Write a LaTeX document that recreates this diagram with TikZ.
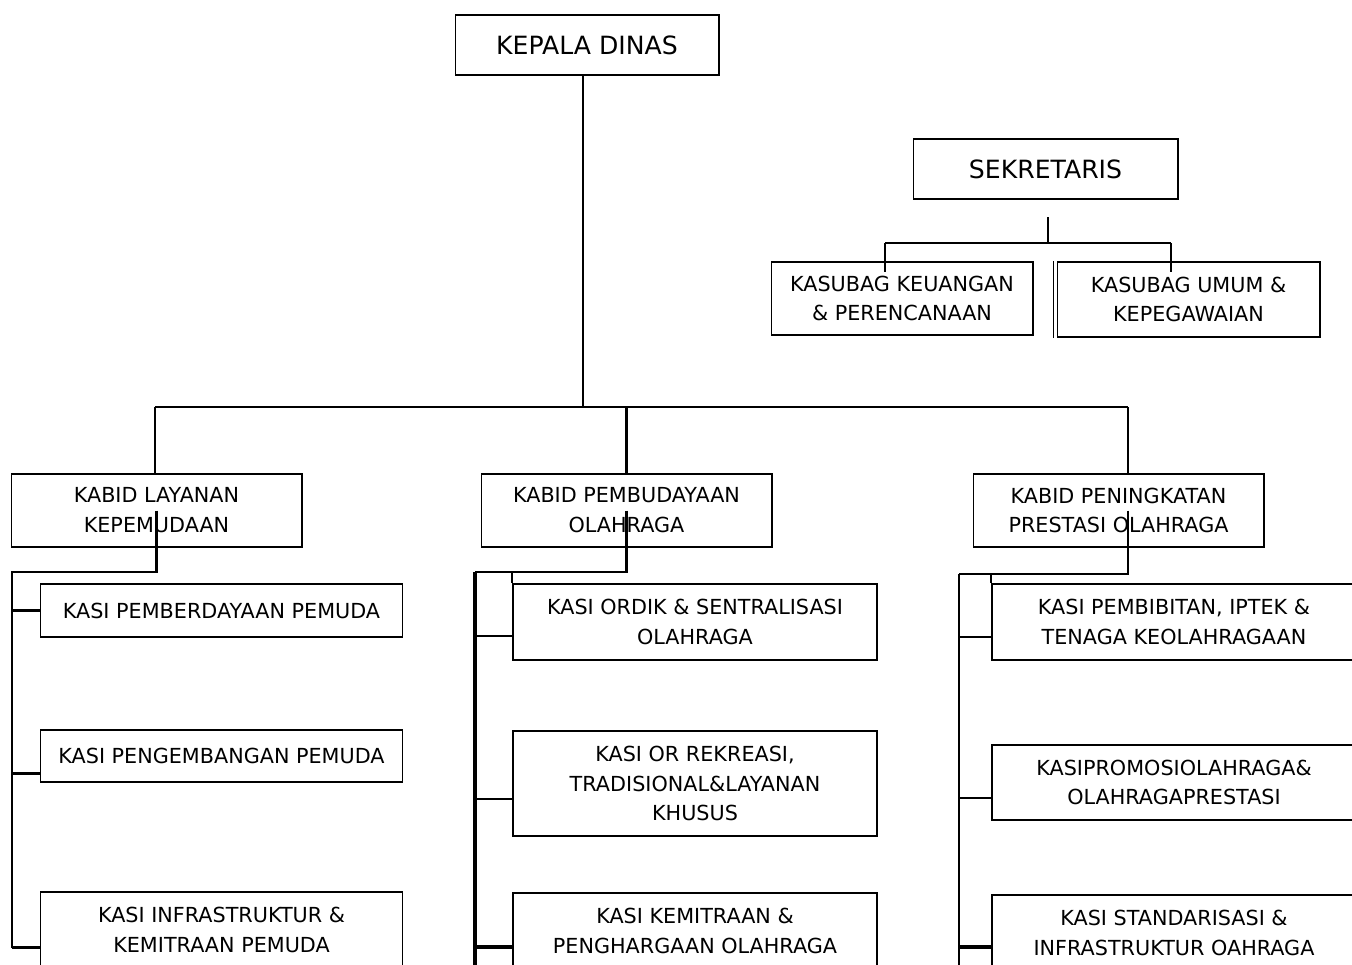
\documentclass[tikz,border=0pt]{standalone}
\usepackage{fontspec}
\setmainfont{DejaVu Sans}
\usepackage{tikz}

\begin{document}
\begin{tikzpicture}[x=0.02cm, y=-0.02cm,
	box/.style={draw, line width=0.6pt, inner sep=0pt, align=center, font=\fontsize{11.8}{17}\selectfont},
	bigbox/.style={box, font=\fontsize{14.3}{17}\selectfont, minimum width=5.28cm, minimum height=1.2cm},
	kabid/.style={box, minimum width=5.82cm, minimum height=1.46cm},
	kasi/.style={box, minimum width=7.26cm},
	kasitebal/.style={box, line width=1.1pt, minimum width=7.28cm},
	link/.style={line width=1.3pt},
	bar/.style={line width=2.6pt}]
	\useasboundingbox (0,0) rectangle (1352,964);
	\clip (0,0) rectangle (1352,964);
	% top
	\node [bigbox] (Kepala) at (587,45) {KEPALA DINAS};
	\node [bigbox, minimum width=5.3cm] (Sekretaris) at (1045.5,169) {SEKRETARIS};
	\node [box, minimum width=5.24cm, minimum height=1.46cm] (Keuangan) at (902,298.5) {KASUBAG KEUANGAN\\ \& PERENCANAAN};
	\node [box, minimum width=5.26cm, minimum height=1.5cm] (Umum) at (1188.5,299.5) {KASUBAG UMUM \&\\ KEPEGAWAIAN};
	\draw [line width=0.6pt] ([xshift=-1.8pt]Umum.north west) -- ([xshift=-1.8pt]Umum.south west);
	% kabid
	\node [kabid] (Layanan) at (156.5,510.5) {KABID LAYANAN\\ KEPEMUDAAN};
	\node [kabid] (Pembudayaan) at (626.5,510.5) {KABID PEMBUDAYAAN\\ OLAHRAGA};
	\node [kabid] (Peningkatan) at (1118.5,510.5) {KABID PENINGKATAN\\ PRESTASI OLAHRAGA};
	% kasi
	\node [kasi, minimum height=1.06cm] (Pemberdayaan) at (221.5,610.5) {KASI PEMBERDAYAAN PEMUDA};
	\node [kasi, minimum height=1.04cm] (Pengembangan) at (221.5,756) {KASI PENGEMBANGAN PEMUDA};
	\node [kasi, minimum height=1.52cm] (Infrastruktur) at (221.5,930) {KASI INFRASTRUKTUR \&\\ KEMITRAAN PEMUDA};
	\node [kasitebal, minimum height=1.52cm] (Ordik) at (695,622) {KASI ORDIK \& SENTRALISASI\\ OLAHRAGA};
	\node [kasitebal, minimum height=2.1cm] (Rekreasi) at (695,783.5) {KASI OR REKREASI,\\ TRADISIONAL\&LAYANAN\\ KHUSUS};
	\node [kasitebal, minimum height=1.52cm] (Kemitraan) at (695,931) {KASI KEMITRAAN \&\\ PENGHARGAAN OLAHRAGA};
	\node [kasitebal, minimum height=1.52cm] (Pembibitan) at (1174,622) {KASI PEMBIBITAN, IPTEK \&\\ TENAGA KEOLAHRAGAAN};
	\node [kasitebal, minimum height=1.5cm] (Promosi) at (1174,782.5) {KASIPROMOSIOLAHRAGA\&\\ OLAHRAGAPRESTASI};
	\node [kasitebal, minimum height=1.52cm] (Standarisasi) at (1174,933) {KASI STANDARISASI \&\\ INFRASTRUKTUR OAHRAGA};
	% coordinates
	\coordinate (BusL) at (155,407);
	\coordinate (BusR) at (1128,407);
	\coordinate (SL) at (885,243);
	\coordinate (SR) at (1171,243);
	\coordinate (SekIn) at ([yshift=-10pt]Sekretaris.south);
	\coordinate (KeuIn) at ([yshift=-5.7pt]Keuangan.north);
	\coordinate (LTop) at (12,572);
	\coordinate (MTop) at (475,572);
	\coordinate (MEnd) at (475,970);
	\coordinate (RTop) at (959,574);
	\coordinate (REnd) at (959,970);
	\coordinate (PengIn) at ([yshift=-10pt]Pengembangan.west);
	\coordinate (InfraIn) at ([yshift=-10pt]Infrastruktur.west);
	\coordinate (OrdikIn) at ([yshift=-8pt]Ordik.west);
	\coordinate (RekIn) at ([yshift=-9pt]Rekreasi.west);
	\coordinate (KemIn) at ([yshift=-9pt]Kemitraan.west);
	\coordinate (BibitIn) at ([yshift=-8.5pt]Pembibitan.west);
	\coordinate (PromIn) at ([yshift=-9pt]Promosi.west);
	\coordinate (StdIn) at ([yshift=-8pt]Standarisasi.west);
	% lines
	\draw [link] ([xshift=-2.3pt]Kepala.south) -- ([xshift=-2.3pt]Kepala.south |- BusL);
	\draw [link] (BusL) -- (BusR);
	\draw [link] (BusL) -- (BusL |- Layanan.north);
	\draw [link] (Pembudayaan.north |- BusL) -- (Pembudayaan.north);
	\draw [link] (BusR) -- (BusR |- Peningkatan.north);
	\draw [link] (SekIn -| 1048,0) -- (SL -| 1048,0);
	\draw [link] (SL) -- (SR);
	\draw [link] (SL) -- (SL |- KeuIn);
	\draw [link] (SR) -- (SR |- KeuIn);
	% kiri
	\draw [link] (Layanan.center) |- (LTop) -- (LTop |- InfraIn);
	\draw [link] (LTop |- Pemberdayaan.west) -- (Pemberdayaan.west);
	\draw [link] (LTop |- PengIn) -- (PengIn);
	\draw [link] (LTop |- InfraIn) -- (InfraIn);
	% tengah
	\draw [link] (Pembudayaan.center) |- (MTop);
	\draw [bar] (MTop) -- (MEnd);
	\draw [link] (Ordik.north west |- MTop) -- (Ordik.north west);
	\draw [link] (MTop |- OrdikIn) -- (OrdikIn);
	\draw [link] (MTop |- RekIn) -- (RekIn);
	\draw [bar] (MTop |- KemIn) -- (KemIn);
	% kanan
	\draw [link] (BusR |- Peningkatan.center) |- (RTop);
	\draw [link] (RTop) -- (REnd);
	\draw [link] (Pembibitan.north west |- RTop) -- (Pembibitan.north west);
	\draw [link] (RTop |- BibitIn) -- (BibitIn);
	\draw [link] (RTop |- PromIn) -- (PromIn);
	\draw [bar] (RTop |- StdIn) -- (StdIn);
\end{tikzpicture}
\end{document}
